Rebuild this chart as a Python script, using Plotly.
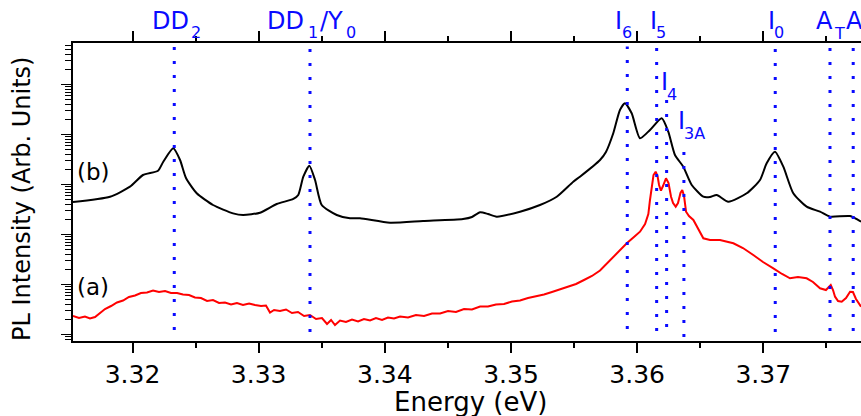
import plotly.graph_objects as go

# ---------------- data ----------------
# spectrum (b) - black
energy_b = [3.31528, 3.31822, 3.31980, 3.32083, 3.32202, 3.32244, 3.32323, 3.32377, 3.32424, 3.32509,
            3.32638, 3.32797, 3.32876, 3.33011, 3.33143, 3.33275, 3.33314, 3.33354, 3.33402, 3.33447,
            3.33500, 3.33619, 3.33724, 3.33803, 3.34041, 3.34303, 3.34620, 3.34691, 3.34755, 3.34818,
            3.34887, 3.35072, 3.35230, 3.35363, 3.35494, 3.35547, 3.35706, 3.35753, 3.35811, 3.35864,
            3.35904, 3.35957, 3.36023, 3.36102, 3.36195, 3.36247, 3.36300, 3.36366, 3.36433, 3.36525,
            3.36578, 3.36631, 3.36723, 3.36869, 3.36974, 3.37027, 3.37093, 3.37159, 3.37238, 3.37344,
            3.37450, 3.37529, 3.37688, 3.37775]
intensity_b = [447, 570, 904, 1549, 1888, 2858, 5297, 3090, 1349, 667,
               389, 265, 245, 273, 407, 513, 617, 1432, 2377, 1230,
               389, 245, 211, 211, 172, 186, 204, 224, 278, 257,
               227, 286, 389, 570, 1138, 1432, 3090, 4467, 10568, 30903,
               42073, 26546, 8395, 12303, 21086, 11376, 3890, 2270, 977, 570,
               562, 617, 453, 667, 1230, 2655, 4529, 2270, 667, 360,
               286, 227, 234, 180]

# spectrum (a) - red
energy_a = [3.31528, 3.31576, 3.31623, 3.31663, 3.31703, 3.31742, 3.31782, 3.31830, 3.31877, 3.31925,
            3.31972, 3.32020, 3.32067, 3.32115, 3.32163, 3.32210, 3.32258, 3.32305, 3.32353, 3.32400,
            3.32448, 3.32495, 3.32543, 3.32591, 3.32638, 3.32686, 3.32733, 3.32781, 3.32828, 3.32876,
            3.32924, 3.32971, 3.33019, 3.33058, 3.33090, 3.33122, 3.33169, 3.33217, 3.33264, 3.33312,
            3.33360, 3.33407, 3.33455, 3.33502, 3.33542, 3.33574, 3.33605, 3.33645, 3.33692, 3.33740,
            3.33788, 3.33835, 3.33883, 3.33930, 3.33978, 3.34025, 3.34073, 3.34121, 3.34184, 3.34247,
            3.34311, 3.34374, 3.34438, 3.34501, 3.34564, 3.34628, 3.34691, 3.34755, 3.34818, 3.34881,
            3.34945, 3.35008, 3.35072, 3.35135, 3.35199, 3.35262, 3.35325, 3.35389, 3.35452, 3.35516,
            3.35579, 3.35642, 3.35706, 3.35785, 3.35849, 3.35918, 3.35975, 3.36023, 3.36063, 3.36089,
            3.36102, 3.36116, 3.36130, 3.36147, 3.36162, 3.36174, 3.36189, 3.36205, 3.36229, 3.36249,
            3.36269, 3.36285, 3.36306, 3.36324, 3.36344, 3.36358, 3.36372, 3.36388, 3.36411, 3.36446,
            3.36483, 3.36525, 3.36578, 3.36657, 3.36763, 3.36839, 3.36921, 3.36998, 3.37080, 3.37149,
            3.37212, 3.37275, 3.37344, 3.37394, 3.37450, 3.37497, 3.37535, 3.37553, 3.37569, 3.37593,
            3.37622, 3.37656, 3.37688, 3.37711, 3.37735, 3.37775]
intensity_a = [2.344, 2.138, 2.291, 2.089, 2.239, 2.692, 3.236, 3.715, 4.365, 4.786,
               5.623, 6.026, 6.761, 6.918, 7.586, 7.079, 7.413, 6.761, 6.761, 6.310,
               6.166, 5.495, 5.370, 4.677, 4.898, 4.266, 4.365, 3.981, 4.266, 3.890,
               4.169, 3.890, 3.715, 3.802, 2.754, 3.090, 2.951, 3.162, 2.692, 2.818,
               2.344, 2.455, 2.042, 2.138, 1.622, 1.950, 1.549, 1.905, 1.778, 1.995,
               1.820, 2.042, 1.905, 2.138, 1.950, 2.188, 2.089, 2.291, 2.188, 2.455,
               2.344, 2.630, 2.630, 2.951, 2.818, 3.236, 3.162, 3.631, 3.631, 3.981,
               4.074, 4.571, 4.786, 5.370, 5.754, 6.310, 7.079, 7.943, 8.913, 10.23,
               12.30, 14.79, 19.05, 30.90, 44.67, 66.68, 89.13, 113.8, 162.2, 257.0,
               489.8, 903.6, 1549, 1803, 1479, 977.2, 751.6, 933.3, 1330, 1072,
               570.2, 426.6, 359.7, 426.6, 676.1, 776.2, 588.8, 285.8, 234.4, 195.0,
               134.9, 83.95, 77.62, 77.62, 66.68, 53.70, 38.90, 28.18, 21.09, 16.22,
               13.30, 14.13, 13.30, 11.22, 8.395, 7.762, 9.772, 7.762, 5.702, 4.677,
               4.529, 5.370, 7.178, 7.079, 5.129, 3.597]

# transition energies (dotted lines)
line_energies = [3.32331, 3.33407, 3.35922, 3.36155, 3.36234, 3.36371, 3.37095, 3.37529, 3.37713]
line_names = ["DD2", "DD1/Y0", "I6", "I5", "I4", "I3A", "I0", "AT", "A"]

x_tick_vals = [3.32, 3.33, 3.34, 3.35, 3.36, 3.37]
x_tick_text = ["3.32", "3.33", "3.34", "3.35", "3.36", "3.37"]
spectrum_labels = ["(a)", "(b)"]

# ---------------- layout helpers ----------------
W, H = 861, 416
ML, MR, MT, MB = 73, 0, 43, 75
PW, PH = W - ML - MR, H - MT - MB
X_RANGE = [3.315283, 3.377748]
Y_RANGE = [-0.13, 5.83]
FONT = "DejaVu Sans"
BLUE = "#0a0aff"


def px_x(px):
    return (px - ML) / PW


def px_y(py):
    return (H - MB - py) / PH


fig = go.Figure()
fig.add_trace(go.Scatter(x=energy_b, y=intensity_b, mode="lines",
                         line=dict(color="black", width=2, shape="spline", smoothing=0.6),
                         showlegend=False))
fig.add_trace(go.Scatter(x=energy_a, y=intensity_a, mode="lines",
                         line=dict(color="#ff0000", width=2),
                         showlegend=False))

# dotted vertical lines
line_top_px = [46.5, 47, 46.5, 47, 100, 143, 47, 47, 47]
line_bot_px = [330, 332, 329, 331, 327, 337, 332, 331, 331]
for e, t, b in zip(line_energies, line_top_px, line_bot_px):
    fig.add_shape(type="line", xref="x", yref="paper", x0=e, x1=e,
                  y0=px_y(b), y1=px_y(t),
                  line=dict(color=BLUE, width=3, dash="3px,11px"))

# label pieces: (text, font size, centre x px, glyph-box top px)
MAIN, SUB = 24, 16
label_pieces = [
    ("DD", MAIN, 170, 6.9), ("2", SUB, 195.5, 23.5),
    ("DD", MAIN, 285.5, 6.9), ("1", SUB, 312.5, 23.5), ("/Y", MAIN, 331.8, 6.9), ("0", SUB, 351, 23.5),
    ("I", MAIN, 618.7, 6.9), ("6", SUB, 626.8, 23.5),
    ("I", MAIN, 653, 6.9), ("5", SUB, 661, 23.5),
    ("I", MAIN, 664.7, 68.2), ("4", SUB, 672.3, 84.8),
    ("I", MAIN, 681, 107.2), ("3A", SUB, 694.5, 123.8),
    ("I", MAIN, 771, 6.9), ("0", SUB, 779.2, 23.5),
    ("A", MAIN, 824, 6.9), ("T", SUB, 839, 24.5),
    ("A", MAIN, 854, 6.9),
]
for txt, fs, cx, top in label_pieces:
    fig.add_annotation(text=txt, xref="paper", yref="paper", x=px_x(cx), y=px_y(top),
                       xanchor="center", yanchor="top", showarrow=False,
                       borderpad=0, borderwidth=0,
                       font=dict(family=FONT, size=fs, color=BLUE))

# (a), (b)
for txt, cx, top in zip(spectrum_labels, [92.5, 93.5], [273.5, 158.5]):
    fig.add_annotation(text=txt, xref="paper", yref="paper", x=px_x(cx), y=px_y(top),
                       xanchor="center", yanchor="top", showarrow=False,
                       borderpad=0, borderwidth=0,
                       font=dict(family=FONT, size=23, color="black"))

# axis titles
fig.add_annotation(text="Energy (eV)", xref="paper", yref="paper", x=px_x(470), y=px_y(387),
                   xanchor="center", yanchor="top", showarrow=False, borderpad=0, borderwidth=0,
                   font=dict(family=FONT, size=26, color="black"))
fig.add_annotation(text="PL Intensity (Arb. Units)", xref="paper", yref="paper",
                   x=px_x(22), y=px_y(199), xanchor="center", yanchor="middle",
                   textangle=-90, showarrow=False, borderpad=0, borderwidth=0,
                   font=dict(family=FONT, size=24, color="black"))

fig.update_layout(
    width=W, height=H,
    margin=dict(l=ML, r=MR, t=MT, b=MB, pad=0),
    paper_bgcolor="white", plot_bgcolor="white",
    font=dict(family=FONT, color="black"),
    hovermode=False,
    xaxis=dict(range=X_RANGE, tickmode="array", tickvals=x_tick_vals, ticktext=x_tick_text,
               showgrid=False, zeroline=False, showline=True, linecolor="black", linewidth=2,
               mirror="ticks", ticks="outside", ticklen=10, tickwidth=2, tickcolor="black",
               tickfont=dict(family=FONT, size=25, color="black"),
               minor=dict(ticks="outside", ticklen=5, tickwidth=2, tickcolor="black",
                          dtick=0.005, tick0=3.315, showgrid=False)),
    yaxis=dict(type="log", range=Y_RANGE, showticklabels=False, dtick=1,
               showgrid=False, zeroline=False, showline=True, linecolor="black", linewidth=2,
               mirror=False, ticks="outside", ticklen=10, tickwidth=1.5, tickcolor="black",
               minor=dict(ticks="outside", ticklen=6, tickwidth=1.2, tickcolor="black",
                          dtick="D1", showgrid=False)),
)

fig.write_html("out.html", config={"displayModeBar": False, "staticPlot": True},
               post_script="document.body.style.margin='0px';"
               "document.body.style.overflow='hidden';")
